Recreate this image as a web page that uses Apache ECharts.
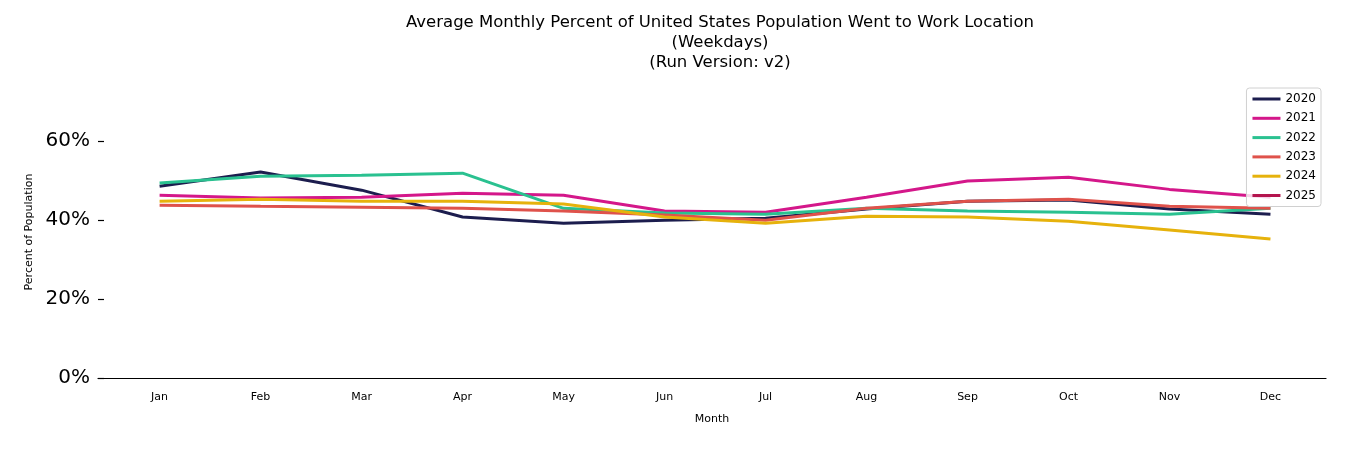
<!DOCTYPE html>
<html>
<head>
<meta charset="utf-8">
<script src="https://cdn.jsdelivr.net/npm/echarts@6/dist/echarts.min.js"></script>
<style>html,body{margin:0;padding:0;background:#fff}#c{width:1350px;height:450px}</style>
</head>
<body>
<div id="c"></div>
<script>
const months = ['Jan','Feb','Mar','Apr','May','Jun','Jul','Aug','Sep','Oct','Nov','Dec'];
const yTicks = [0, 20, 40, 60];
const years = ['2020','2021','2022','2023','2024','2025'];
const v2020 = [48.6, 52.2, 47.6, 40.8, 39.2, 40.0, 40.5, 42.8, 44.8, 45.1, 42.8, 41.5];
const v2021 = [46.3, 45.6, 45.8, 46.8, 46.3, 42.3, 42.0, 45.8, 49.9, 50.9, 47.8, 45.8];
const v2022 = [49.4, 51.1, 51.4, 51.9, 43.0, 41.8, 41.5, 43.0, 42.3, 42.0, 41.5, 43.0];
const v2023 = [43.8, 43.5, 43.3, 43.0, 42.3, 41.3, 40.0, 43.0, 44.8, 45.3, 43.5, 43.0];
const v2024 = [44.8, 45.3, 44.8, 44.8, 44.1, 40.8, 39.2, 41.0, 40.8, 39.7, 37.5, 35.2];
const v2025 = [];
const values = [v2020, v2021, v2022, v2023, v2024, v2025];
const colors = ['#1c1d4e', '#d4178a', '#2ac190', '#df524b', '#e6b20c', '#b4144e'];

const chart = echarts.init(document.getElementById('c'));
const font = 'DejaVu Sans';
chart.setOption({
  animation: false,
  title: {
    text: 'Average Monthly Percent of United States Population Went to Work Location\n(Weekdays)\n(Run Version: v2)',
    left: 715, top: 8, textAlign: 'center',
    textStyle: { fontFamily: font, fontSize: 16.5, fontWeight: 'normal', color: '#000', lineHeight: 20 }
  },
  legend: {
    orient: 'vertical', right: 29, top: 88,
    data: years,
    icon: 'rect', itemWidth: 28, itemHeight: 3, itemGap: 7.3, itemTextGap: 8,
    padding: [5, 5, 5, 6],
    borderColor: '#d0d0d0', borderWidth: 1, borderRadius: 3, backgroundColor: 'rgba(255,255,255,0.8)',
    textStyle: { fontFamily: font, fontSize: 12, color: '#000' }
  },
  grid: { left: 98, right: 24, top: 86, bottom: 72, containLabel: false },
  xAxis: {
    type: 'value', min: -0.61, max: 11.55,
    name: 'Month', nameLocation: 'middle', nameGap: 36,
    nameTextStyle: { fontFamily: font, fontSize: 11, color: '#000' },
    splitLine: { show: false },
    axisLine: { show: true, onZero: false, lineStyle: { color: '#000', width: 1.2 } },
    axisTick: { show: false },
    axisLabel: {
      customValues: months.map((m, i) => i),
      formatter: v => months[Math.round(v)] || '',
      fontFamily: font, fontSize: 11, color: '#000', margin: 14
    }
  },
  yAxis: {
    type: 'value', min: 0, max: 74,
    name: 'Percent of Population', nameLocation: 'middle', nameGap: 63,
    nameTextStyle: { fontFamily: font, fontSize: 11, color: '#000' },
    splitLine: { show: false },
    axisLine: { show: false, onZero: false },
    axisTick: { show: true, inside: true, length: 6, customValues: yTicks, lineStyle: { color: '#000', width: 1.2 } },
    axisLabel: {
      customValues: yTicks,
      formatter: v => v + '%',
      fontFamily: font, fontSize: 20, color: '#000', margin: 8
    }
  },
  series: years.map((y, k) => ({
    name: y, type: 'line',
    data: values[k].map((v, i) => [i, v]),
    showSymbol: false, symbol: 'none',
    color: colors[k],
    lineStyle: { width: 3, color: colors[k] }
  }))
});
</script>
</body>
</html>
